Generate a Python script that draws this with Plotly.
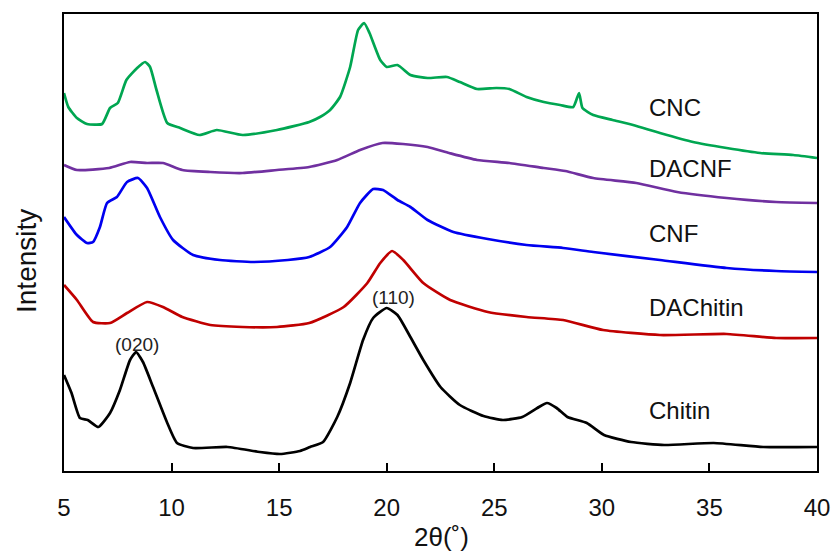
import plotly.graph_objects as go

# ---- data (2θ in degrees, intensity in arbitrary units) ----
cnc_theta = [5.0, 5.2, 5.6, 6.07, 6.77, 7.14, 7.5, 7.9, 8.4, 8.77, 9.0, 9.3, 9.8, 10.4, 11.3, 12.1,
             13.3, 14.9, 16.4, 16.9, 17.37, 17.83, 18.3, 18.67, 18.95, 19.2, 19.7, 20.0, 20.5, 21.1,
             21.9, 22.8, 23.4, 24.2, 25.1, 25.7, 26.5, 27.3, 28.06, 28.67, 28.94, 29.1, 29.6, 30.5,
             31.45, 32.7, 34.24, 35.8, 37.36, 38.9, 40.0]
cnc_int = [378, 364, 353, 347, 347, 363, 368, 391, 403, 409, 404, 381, 348, 343, 336, 341,
           336, 341, 349, 354, 361, 374, 404, 441, 448, 438, 411, 404, 406, 396,
           393, 394, 389, 382, 383, 382, 374, 369, 366, 364, 378, 363, 356, 351,
           346, 338, 329, 323, 318, 316, 313]

dacnf_theta = [5.0, 5.6, 7.1, 8.07, 8.86, 9.6, 10.5, 11.8, 13.3, 14.9, 16.4, 17.7, 18.76, 19.8,
               20.76, 21.9, 22.9, 24.2, 25.7, 27.3, 28.3, 29.6, 31.6, 33.5, 35.8, 38.1, 40.0]
dacnf_int = [306, 301, 303, 309, 308, 308, 301, 299, 298, 301, 304, 311, 321, 328,
             327, 324, 318, 311, 308, 303, 300, 293, 288, 279, 273, 269, 268]

cnf_theta = [5.0, 5.6, 6.07, 6.35, 6.67, 7.0, 7.46, 7.93, 8.44, 8.86, 9.46, 10.07, 11.0, 12.25,
             13.8, 15.4, 16.4, 17.37, 18.16, 18.76, 19.37, 19.83, 20.5, 21.1, 21.9, 23.1, 24.7,
             26.5, 28.2, 29.6, 32.7, 35.8, 38.1, 40.0]
cnf_int = [254, 236, 228, 229, 244, 268, 274, 289, 293, 283, 254, 231, 216, 211,
           209, 211, 214, 224, 244, 268, 282, 281, 271, 264, 251, 239, 232,
           226, 223, 219, 211, 203, 200, 199]

dachitin_theta = [5.0, 5.6, 6.35, 7.14, 7.93, 8.86, 9.6, 10.5, 11.8, 13.3, 14.9, 16.4, 18.0, 19.1,
                  19.7, 20.25, 20.77, 21.7, 22.95, 24.7, 26.5, 28.2, 30.06, 32.7, 35.8, 38.1, 40.0]
dachitin_int = [186, 171, 149, 148, 158, 169, 164, 154, 146, 144, 144, 148, 164, 188,
                208, 220, 211, 188, 171, 159, 154, 151, 141, 136, 137, 133, 133]

chitin_theta = [5.0, 5.35, 5.74, 6.1, 6.6, 7.14, 7.6, 8.07, 8.35, 8.67, 9.14, 9.8, 10.25, 11.0,
                12.6, 14.1, 15.04, 15.97, 16.44, 17.04, 17.7, 18.3, 18.9, 19.37, 20.0, 20.5, 21.1,
                21.7, 22.5, 23.4, 24.5, 25.4, 26.3, 27.0, 27.45, 27.9, 28.4, 29.3, 30.1, 31.36,
                32.9, 35.2, 37.5, 40.0]
chitin_int = [96, 78, 53, 51, 44, 58, 81, 111, 119, 109, 84, 48, 28, 23,
              24, 19, 17, 20, 24, 29, 54, 88, 131, 153, 163, 156, 134,
              111, 84, 66, 55, 51, 54, 63, 68, 63, 54, 48, 36, 29,
              26, 28, 24, 24]

series_names = ["CNC", "DACNF", "CNF", "DAChitin", "Chitin"]
series_colors = ["#00A651", "#7030A0", "#0000F0", "#C00000", "#000000"]
series_x = [cnc_theta, dacnf_theta, cnf_theta, dachitin_theta, chitin_theta]
series_y = [cnc_int, dacnf_int, cnf_int, dachitin_int, chitin_int]
label_y = [364, 303, 238, 164, 61]

x_ticks = [5, 10, 15, 20, 25, 30, 35, 40]
peak_labels = ["(020)", "(110)"]
peak_x = [8.39, 20.3]
peak_y = [127, 174]

FONT = "Liberation Sans, Arial, sans-serif"

fig = go.Figure()
for name, col, xs, ys in zip(series_names, series_colors, series_x, series_y):
    fig.add_trace(go.Scatter(x=xs, y=ys, mode="lines", name=name,
                             line=dict(color=col, width=2.7, shape="spline", smoothing=0.5),
                             showlegend=False))

annotations = []
for name, ly in zip(series_names, label_y):
    annotations.append(dict(x=32.1, y=ly, xref="x", yref="y", text=name, showarrow=False,
                            xanchor="left", yanchor="middle",
                            font=dict(family=FONT, size=24, color="#111111")))
for t, px_, py_ in zip(peak_labels, peak_x, peak_y):
    annotations.append(dict(x=px_, y=py_, xref="x", yref="y", text=t, showarrow=False,
                            xanchor="center", yanchor="middle",
                            font=dict(family=FONT, size=19, color="#222222")))
# axis titles
annotations.append(dict(x=(441 - 64) / 753, y=(471 - 537) / 457, xref="paper", yref="paper",
                        text="2θ(˚)", showarrow=False, xanchor="center", yanchor="middle",
                        font=dict(family=FONT, size=26, color="#111111")))
annotations.append(dict(x=(26 - 64) / 753, y=(471 - 261) / 457, xref="paper", yref="paper",
                        text="Intensity", showarrow=False, textangle=-90,
                        xanchor="center", yanchor="middle",
                        font=dict(family=FONT, size=28, color="#111111")))

fig.update_layout(
    width=834, height=554,
    margin=dict(l=64, r=17, t=14, b=83),
    paper_bgcolor="white", plot_bgcolor="white",
    annotations=annotations,
    xaxis=dict(range=[5, 40], tickvals=x_ticks, ticktext=[str(v) for v in x_ticks],
               ticks="inside", ticklen=8, tickwidth=1.5, tickcolor="black",
               showline=True, linecolor="black", linewidth=2, mirror=True,
               showgrid=False, zeroline=False, ticklabelstandoff=14, automargin=False,
               tickfont=dict(family=FONT, size=24, color="#111111")),
    yaxis=dict(range=[0, 457], showticklabels=False, ticks="", automargin=False,
               showline=True, linecolor="black", linewidth=2, mirror=True,
               showgrid=False, zeroline=False),
)

fig.write_html("out.html", config={"displayModeBar": False},
               post_script="document.body.style.margin='0';document.body.style.overflow='hidden';")
